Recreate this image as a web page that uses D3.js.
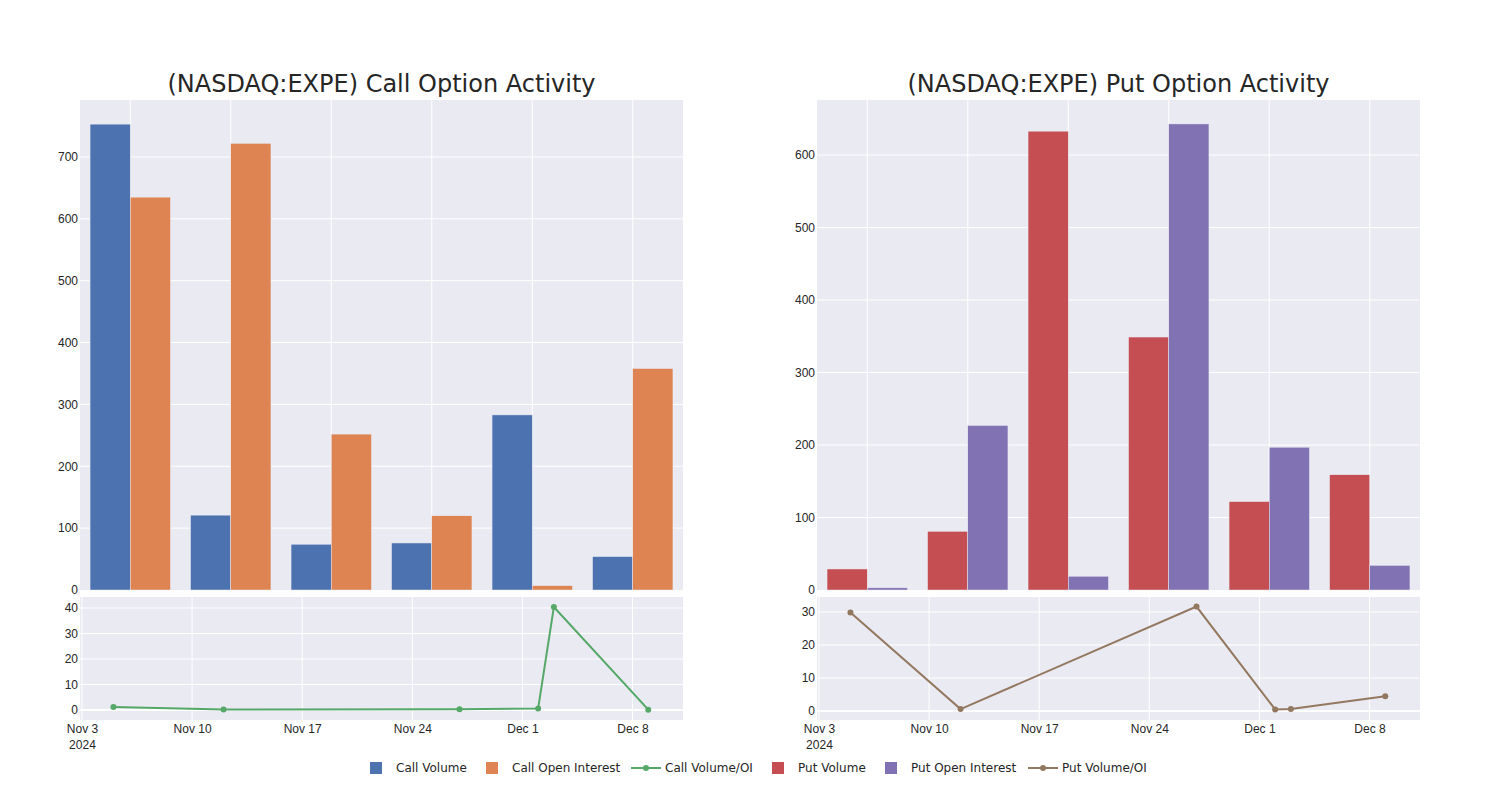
<!DOCTYPE html>
<html>
<head>
<meta charset="utf-8">
<script src="https://cdn.jsdelivr.net/npm/d3@7"></script>
<style>
body { margin: 0; background: #fff; }
svg { font-family: "DejaVu Sans", sans-serif; }
</style>
</head>
<body>
<svg id="chart" width="1500" height="800"></svg>
<script>
// ---- data ----
const categories = ["2024-11-05", "2024-11-12", "2024-11-27", "2024-12-02", "2024-12-03", "2024-12-09"];
const callVolume = [753, 121, 74, 76, 283, 54];
const callOpenInterest = [635, 722, 252, 120, 7, 358];
const callRatioDates = ["2024-11-05", "2024-11-12", "2024-11-27", "2024-12-02", "2024-12-03", "2024-12-09"];
const callRatio = [1.19, 0.17, 0.29, 0.63, 40.4, 0.15];

const putVolume = [29, 81, 633, 349, 122, 159];
const putOpenInterest = [3, 227, 19, 643, 197, 34];
const putRatioDates = ["2024-11-05", "2024-11-12", "2024-11-27", "2024-12-02", "2024-12-03", "2024-12-09"];
const putRatio = [29.8, 0.6, 31.6, 0.5, 0.6, 4.5];

const callYTicks = [0, 100, 200, 300, 400, 500, 600, 700];
const putYTicks = [0, 100, 200, 300, 400, 500, 600];
const callRatioTicks = [0, 10, 20, 30, 40];
const putRatioTicks = [0, 10, 20, 30];
const dateTicks = ["2024-11-03", "2024-11-10", "2024-11-17", "2024-11-24", "2024-12-01", "2024-12-08"];

const colors = {
  callVol: "#4C72B0", callOI: "#DD8452", callRatio: "#55A868",
  putVol: "#C44E52", putOI: "#8172B3", putRatio: "#937860"
};
const BG = "#EAEAF2";
const TXT = "#262626";

const svg = d3.select("#chart");
const parse = d3.timeParse("%Y-%m-%d");
const fmtDate = d3.timeFormat("%b %-d");

function panel(opts) {
  const { x0, x1, yTop, yMid, yBot0, yBot1, title, vol, oi, colVol, colOI,
          yTicks, yMax, ratioDates, ratio, colRatio, rTicks, rDomain } = opts;

  // ---------- top bar chart ----------
  const gTop = svg.append("g");
  gTop.append("rect").attr("x", x0).attr("y", yTop).attr("width", x1 - x0).attr("height", yMid - yTop).attr("fill", BG);

  const xb = d3.scaleBand().domain(categories).range([x0, x1]).paddingInner(0.2).paddingOuter(0.1);
  const xsub = d3.scaleBand().domain(["v", "o"]).range([0, xb.bandwidth()]);
  const y = d3.scaleLinear().domain([0, yMax]).range([yMid, yTop]);

  gTop.selectAll(".hg").data(yTicks.filter(t => t > 0)).join("line")
    .attr("x1", x0).attr("x2", x1).attr("y1", d => y(d)).attr("y2", d => y(d))
    .attr("stroke", "#fff").attr("stroke-width", 1);
  gTop.selectAll(".vg").data(categories).join("line")
    .attr("x1", d => xb(d) + xb.bandwidth() / 2).attr("x2", d => xb(d) + xb.bandwidth() / 2)
    .attr("y1", yTop).attr("y2", yMid)
    .attr("stroke", "#fff").attr("stroke-width", 1);

  gTop.selectAll(".bv").data(categories).join("rect")
    .attr("x", d => xb(d) + xsub("v")).attr("width", xsub.bandwidth())
    .attr("y", (d, i) => y(vol[i])).attr("height", (d, i) => y(0) - y(vol[i]))
    .attr("fill", colVol).attr("stroke", BG).attr("stroke-width", 0.5);
  gTop.selectAll(".bo").data(categories).join("rect")
    .attr("x", d => xb(d) + xsub("o")).attr("width", xsub.bandwidth())
    .attr("y", (d, i) => y(oi[i])).attr("height", (d, i) => y(0) - y(oi[i]))
    .attr("fill", colOI).attr("stroke", BG).attr("stroke-width", 0.5);

  const yAx = gTop.append("g").attr("transform", `translate(${x0 - 2},0)`)
    .call(d3.axisLeft(y).tickValues(yTicks).tickSize(0).tickPadding(0).tickFormat(d3.format("d")));
  yAx.select(".domain").remove();
  yAx.selectAll("text").attr("fill", TXT).style("font-size", "12px");

  svg.append("text").attr("x", (x0 + x1) / 2).attr("y", yTop - 8)
    .attr("text-anchor", "middle").attr("fill", TXT).style("font-size", "24px").text(title);

  // ---------- bottom ratio chart ----------
  const gB = svg.append("g");
  gB.append("rect").attr("x", x0).attr("y", yBot0).attr("width", x1 - x0).attr("height", yBot1 - yBot0).attr("fill", BG);
  const xt = d3.scaleTime().domain([new Date(2024, 10, 2, 21), new Date(2024, 11, 11, 5)]).range([x0, x1]);
  const yr = d3.scaleLinear().domain(rDomain).range([yBot1, yBot0]);
  const dTicks = dateTicks.map(parse);

  gB.selectAll(".hg").data(rTicks).join("line")
    .attr("x1", x0).attr("x2", x1).attr("y1", d => yr(d)).attr("y2", d => yr(d))
    .attr("stroke", "#fff").attr("stroke-width", d => d === 0 ? 2 : 1);
  gB.selectAll(".vg").data(dTicks).join("line")
    .attr("x1", d => xt(d)).attr("x2", d => xt(d)).attr("y1", yBot0).attr("y2", yBot1)
    .attr("stroke", "#fff").attr("stroke-width", 1);

  const pts = ratioDates.map((d, i) => ({ x: parse(d), y: ratio[i] }));
  gB.append("path").datum(pts)
    .attr("d", d3.line().x(d => xt(d.x)).y(d => yr(d.y)))
    .attr("fill", "none").attr("stroke", colRatio).attr("stroke-width", 2);
  gB.selectAll(".pt").data(pts).join("circle")
    .attr("cx", d => xt(d.x)).attr("cy", d => yr(d.y)).attr("r", 3).attr("fill", colRatio);

  const ryAx = gB.append("g").attr("transform", `translate(${x0 - 2},0)`)
    .call(d3.axisLeft(yr).tickValues(rTicks).tickSize(0).tickPadding(0).tickFormat(d3.format("d")));
  ryAx.select(".domain").remove();
  ryAx.selectAll("text").attr("fill", TXT).style("font-size", "12px");

  const xAx = gB.append("g").attr("transform", `translate(0,${yBot1})`)
    .call(d3.axisBottom(xt).tickValues(dTicks).tickSize(0).tickPadding(4).tickFormat(fmtDate));
  xAx.select(".domain").remove();
  xAx.selectAll("text").attr("fill", TXT).style("font-size", "12px");
  xAx.selectAll(".tick").filter((d, i) => i === 0).append("text")
    .attr("y", 20).attr("dy", "0.71em").attr("fill", TXT).attr("text-anchor", "middle")
    .style("font-size", "12px").text("2024");
}

panel({
  x0: 80, x1: 683, yTop: 100, yMid: 590, yBot0: 597, yBot1: 720,
  title: "(NASDAQ:EXPE) Call Option Activity",
  vol: callVolume, oi: callOpenInterest, colVol: colors.callVol, colOI: colors.callOI,
  yTicks: callYTicks, yMax: 792,
  ratioDates: callRatioDates, ratio: callRatio, colRatio: colors.callRatio,
  rTicks: callRatioTicks, rDomain: [-3.9, 44.3]
});
panel({
  x0: 817, x1: 1420, yTop: 100, yMid: 590, yBot0: 597, yBot1: 720,
  title: "(NASDAQ:EXPE) Put Option Activity",
  vol: putVolume, oi: putOpenInterest, colVol: colors.putVol, colOI: colors.putOI,
  yTicks: putYTicks, yMax: 676,
  ratioDates: putRatioDates, ratio: putRatio, colRatio: colors.putRatio,
  rTicks: putRatioTicks, rDomain: [-2.7, 34.5]
});

// ---------- legend ----------
const legendItems = [
  { name: "Call Volume", type: "bar", color: colors.callVol, x: 370 },
  { name: "Call Open Interest", type: "bar", color: colors.callOI, x: 486 },
  { name: "Call Volume/OI", type: "line", color: colors.callRatio, x: 631 },
  { name: "Put Volume", type: "bar", color: colors.putVol, x: 772 },
  { name: "Put Open Interest", type: "bar", color: colors.putOI, x: 885 },
  { name: "Put Volume/OI", type: "line", color: colors.putRatio, x: 1028 }
];
const lg = svg.append("g").attr("transform", "translate(0,768)");
legendItems.forEach(it => {
  const g = lg.append("g").attr("transform", `translate(${it.x},0)`);
  if (it.type === "bar") {
    g.append("rect").attr("x", 0).attr("y", -6).attr("width", 12).attr("height", 12).attr("fill", it.color);
    g.append("text").attr("x", 26).attr("y", 0).attr("dy", "0.35em").attr("fill", TXT).style("font-size", "12px").text(it.name);
  } else {
    g.append("line").attr("x1", 0).attr("x2", 30).attr("y1", 0).attr("y2", 0).attr("stroke", it.color).attr("stroke-width", 2);
    g.append("circle").attr("cx", 15).attr("cy", 0).attr("r", 3).attr("fill", it.color);
    g.append("text").attr("x", 34).attr("y", 0).attr("dy", "0.35em").attr("fill", TXT).style("font-size", "12px").text(it.name);
  }
});
</script>
</body>
</html>
